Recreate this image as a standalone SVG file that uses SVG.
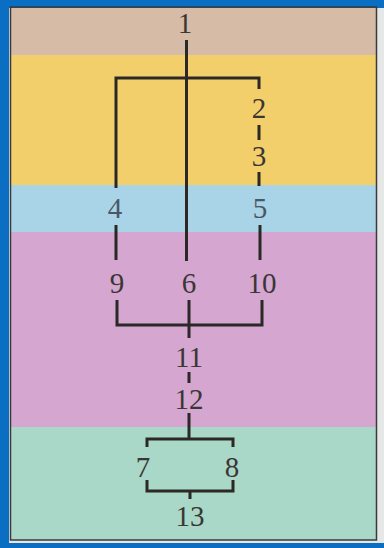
<svg xmlns="http://www.w3.org/2000/svg" width="384" height="548" viewBox="0 0 384 548">
<style>
.ln{stroke:#2b2826;stroke-width:3;fill:none;stroke-linecap:butt}
.t{font-family:"Liberation Serif","DejaVu Serif",serif;font-size:29px;fill:#3a3634;text-anchor:middle}
.tb{fill:#4a5866}
</style>
<rect x="0" y="0" width="384" height="548" fill="#0a6fc2"/>
<rect x="9" y="8" width="375" height="535" fill="#e6e8e8"/>
<rect x="11" y="8" width="365" height="47" fill="#d6bca6"/>
<rect x="11" y="55" width="365" height="130" fill="#f2cf6a"/>
<rect x="11" y="185" width="365" height="47" fill="#a9d3e6"/>
<rect x="11" y="232" width="365" height="195" fill="#d4a6d0"/>
<rect x="11" y="427" width="365" height="113" fill="#a9d8c8"/>
<rect x="10.5" y="7" width="366" height="533" fill="none" stroke="#3a3a3a" stroke-width="1.5"/>
<g id="connectors">
<path class="ln" d="M186.5 40 V261"/>
<path class="ln" d="M189 300 V338"/>
<path class="ln" d="M116 188 V78 H259 V89"/>
<path class="ln" d="M259 125 V140"/>
<path class="ln" d="M259 172 V186"/>
<path class="ln" d="M116 225 V260"/>
<path class="ln" d="M260 225 V260"/>
<path class="ln" d="M117 300 V325 H262 V300"/>
<path class="ln" d="M189 372 V383"/>
<path class="ln" d="M189 413 V439"/>
<path class="ln" d="M147 447 V439 H233 V447"/>
<path class="ln" d="M147 480 V491 H233 V480"/>
<path class="ln" d="M190 491 V499"/>
</g>
<g id="n1"><text class="t" x="185" y="33">1</text></g>
<g id="n2"><text class="t" x="259" y="118">2</text></g>
<g id="n3"><text class="t" x="259" y="166">3</text></g>
<g id="n4"><text class="t tb" x="115" y="218">4</text></g>
<g id="n5"><text class="t tb" x="260" y="218">5</text></g>
<g id="n9"><text class="t" x="117" y="293">9</text></g>
<g id="n6"><text class="t" x="189" y="293">6</text></g>
<g id="n10"><text class="t" x="262" y="293">10</text></g>
<g id="n11"><text class="t" x="189" y="367">11</text></g>
<g id="n12"><text class="t" x="189" y="409">12</text></g>
<g id="n7"><text class="t" x="143" y="477">7</text></g>
<g id="n8"><text class="t" x="232" y="477">8</text></g>
<g id="n13"><text class="t" x="190" y="526">13</text></g>
</svg>
